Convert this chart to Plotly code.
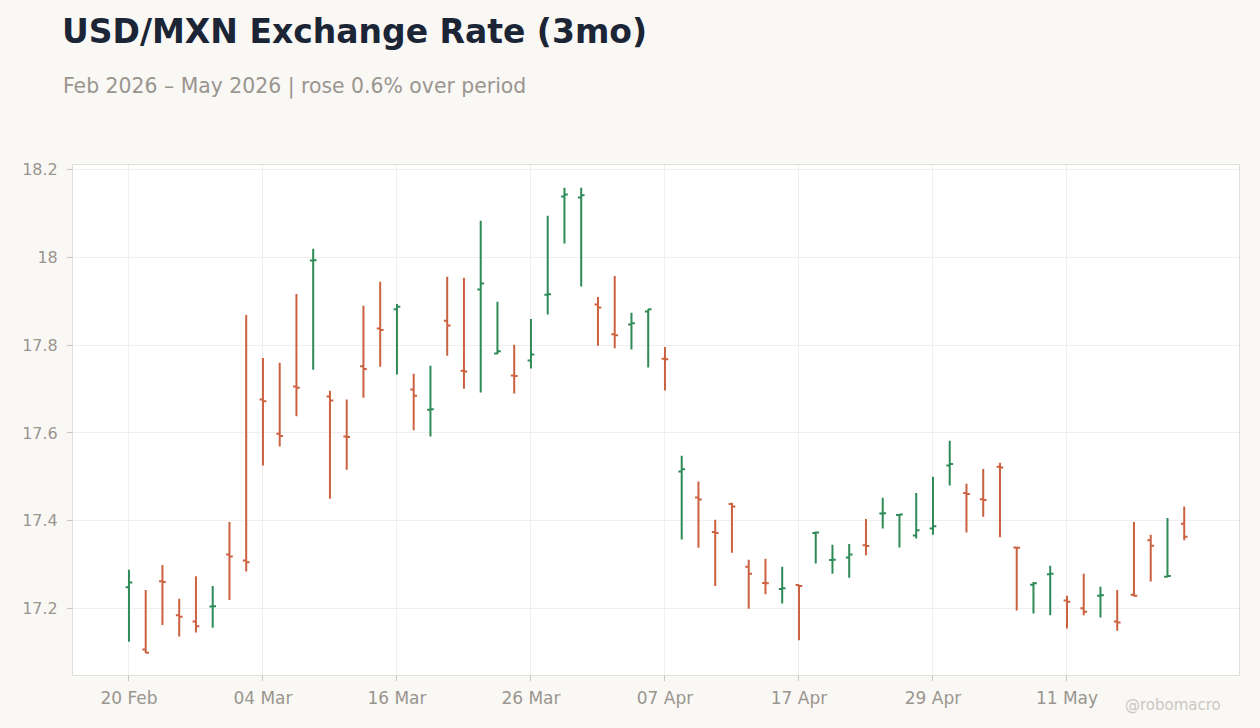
import plotly.graph_objects as go

dates = [
    "2026-02-20", "2026-02-23", "2026-02-24", "2026-02-25", "2026-02-26", "2026-02-27",
    "2026-03-02", "2026-03-03", "2026-03-04", "2026-03-05", "2026-03-06", "2026-03-09",
    "2026-03-10", "2026-03-11", "2026-03-12", "2026-03-13", "2026-03-16", "2026-03-17",
    "2026-03-18", "2026-03-19", "2026-03-20", "2026-03-23", "2026-03-24", "2026-03-25",
    "2026-03-26", "2026-03-27", "2026-03-30", "2026-03-31", "2026-04-01", "2026-04-02",
    "2026-04-03", "2026-04-06", "2026-04-07", "2026-04-08", "2026-04-09", "2026-04-10",
    "2026-04-13", "2026-04-14", "2026-04-15", "2026-04-16", "2026-04-17", "2026-04-20",
    "2026-04-21", "2026-04-22", "2026-04-23", "2026-04-24", "2026-04-27", "2026-04-28",
    "2026-04-29", "2026-04-30", "2026-05-01", "2026-05-04", "2026-05-05", "2026-05-06",
    "2026-05-07", "2026-05-08", "2026-05-11", "2026-05-12", "2026-05-13", "2026-05-14",
    "2026-05-15", "2026-05-18", "2026-05-19", "2026-05-20",
]

open_ = [
    17.248, 17.106, 17.262, 17.184, 17.170, 17.204, 17.323, 17.309, 17.676, 17.598,
    17.706, 17.993, 17.683, 17.592, 17.752, 17.838, 17.882, 17.699, 17.653, 17.856,
    17.742, 17.927, 17.781, 17.731, 17.765, 17.915, 18.139, 18.137, 17.893, 17.825,
    17.847, 17.877, 17.769, 17.512, 17.453, 17.374, 17.438, 17.295, 17.258, 17.244,
    17.253, 17.372, 17.310, 17.316, 17.344, 17.416, 17.413, 17.366, 17.382, 17.526,
    17.463, 17.449, 17.523, 17.339, 17.254, 17.278, 17.218, 17.200, 17.229, 17.170,
    17.231, 17.355, 17.272, 17.393,
]
high = [
    17.288, 17.242, 17.299, 17.222, 17.273, 17.251, 17.397, 17.869, 17.771, 17.760,
    17.917, 18.020, 17.696, 17.676, 17.890, 17.945, 17.894, 17.735, 17.753, 17.956,
    17.954, 18.084, 17.899, 17.801, 17.860, 18.095, 18.159, 18.159, 17.910, 17.958,
    17.874, 17.882, 17.796, 17.548, 17.489, 17.402, 17.441, 17.311, 17.313, 17.295,
    17.254, 17.375, 17.345, 17.347, 17.404, 17.452, 17.415, 17.463, 17.500, 17.582,
    17.484, 17.518, 17.532, 17.340, 17.260, 17.297, 17.229, 17.279, 17.249, 17.242,
    17.397, 17.368, 17.406, 17.432,
]
low = [
    17.124, 17.098, 17.162, 17.136, 17.145, 17.156, 17.219, 17.284, 17.526, 17.569,
    17.638, 17.744, 17.450, 17.516, 17.680, 17.751, 17.733, 17.606, 17.592, 17.776,
    17.701, 17.692, 17.780, 17.690, 17.747, 17.870, 18.032, 17.934, 17.799, 17.793,
    17.790, 17.749, 17.697, 17.357, 17.338, 17.251, 17.327, 17.199, 17.232, 17.211,
    17.127, 17.302, 17.279, 17.270, 17.321, 17.382, 17.339, 17.359, 17.368, 17.480,
    17.373, 17.409, 17.362, 17.195, 17.188, 17.184, 17.154, 17.184, 17.179, 17.149,
    17.227, 17.261, 17.271, 17.355,
]
close = [
    17.259, 17.099, 17.260, 17.181, 17.159, 17.205, 17.318, 17.305, 17.672, 17.593,
    17.703, 17.994, 17.674, 17.591, 17.746, 17.835, 17.888, 17.685, 17.654, 17.845,
    17.740, 17.941, 17.786, 17.730, 17.779, 17.916, 18.144, 18.142, 17.886, 17.823,
    17.850, 17.882, 17.768, 17.517, 17.448, 17.372, 17.432, 17.279, 17.257, 17.246,
    17.251, 17.373, 17.311, 17.323, 17.342, 17.417, 17.414, 17.378, 17.387, 17.529,
    17.461, 17.447, 17.521, 17.338, 17.257, 17.279, 17.215, 17.192, 17.230, 17.168,
    17.229, 17.343, 17.274, 17.363,
]

tick_dates = ["2026-02-20", "2026-03-04", "2026-03-16", "2026-03-26",
              "2026-04-07", "2026-04-17", "2026-04-29", "2026-05-11"]
tick_labels = ["20 Feb", "04 Mar", "16 Mar", "26 Mar", "07 Apr", "17 Apr", "29 Apr", "11 May"]
y_ticks = [17.2, 17.4, 17.6, 17.8, 18.0, 18.2]
y_labels = ["17.2", "17.4", "17.6", "17.8", "18", "18.2"]

GREEN = "#2e8b57"
RED = "#cc6140"
GRAY = "#9a958f"

fig = go.Figure(go.Ohlc(
    x=dates, open=open_, high=high, low=low, close=close,
    increasing=dict(line=dict(color=GREEN, width=2)),
    decreasing=dict(line=dict(color=RED, width=2)),
    tickwidth=0.2,
    showlegend=False,
))

fig.update_layout(
    width=1260, height=728,
    paper_bgcolor="#f9f8f5",
    plot_bgcolor="#ffffff",
    margin=dict(l=73, r=21, t=165, b=53),
    font=dict(family="DejaVu Sans", color=GRAY, size=16),
    title=dict(
        text="<b>USD/MXN Exchange Rate (3mo)</b>",
        font=dict(family="DejaVu Sans", size=33, color="#1b2536"),
        xref="container", yref="container",
        x=62 / 1260, xanchor="left",
        y=1 - 31 / 728, yanchor="middle",
    ),
    xaxis=dict(
        type="category",
        range=[-3.34, 66.27],
        tickmode="array", tickvals=tick_dates, ticktext=tick_labels,
        showgrid=True, gridcolor="#f0efed", gridwidth=1,
        ticks="outside", ticklen=5, tickcolor="#c8c4be",
        ticklabelstandoff=3,
        showline=True, linecolor="#e2dfda", linewidth=1, mirror=True,
        rangeslider=dict(visible=False),
        tickfont=dict(size=17, color=GRAY),
        zeroline=False,
    ),
    yaxis=dict(
        range=[17.048, 18.211],
        tickmode="array", tickvals=y_ticks, ticktext=y_labels,
        showgrid=True, gridcolor="#f0efed", gridwidth=1,
        showline=True, linecolor="#e2dfda", linewidth=1, mirror=True,
        ticks="outside", ticklen=5, tickcolor="#c8c4be",
        ticklabelstandoff=6,
        tickfont=dict(size=16, color=GRAY),
        zeroline=False,
    ),
    annotations=[
        dict(
            text="Feb 2026 \u2013 May 2026 | rose 0.6% over period",
            xref="paper", yref="paper",
            x=(61 - 73) / 1166, xanchor="left",
            y=1 + (165 - 86) / 510, yanchor="middle",
            showarrow=False,
            font=dict(family="DejaVu Sans", size=20.4, color=GRAY),
        ),
        dict(
            text="@robomacro",
            xref="paper", yref="paper",
            x=(1223 - 73) / 1166, xanchor="right",
            y=-(705 - 675) / 510, yanchor="middle",
            showarrow=False,
            font=dict(family="DejaVu Sans", size=15, color="#cbc7c1"),
        ),
    ],
)

fig.write_html("out.html")
